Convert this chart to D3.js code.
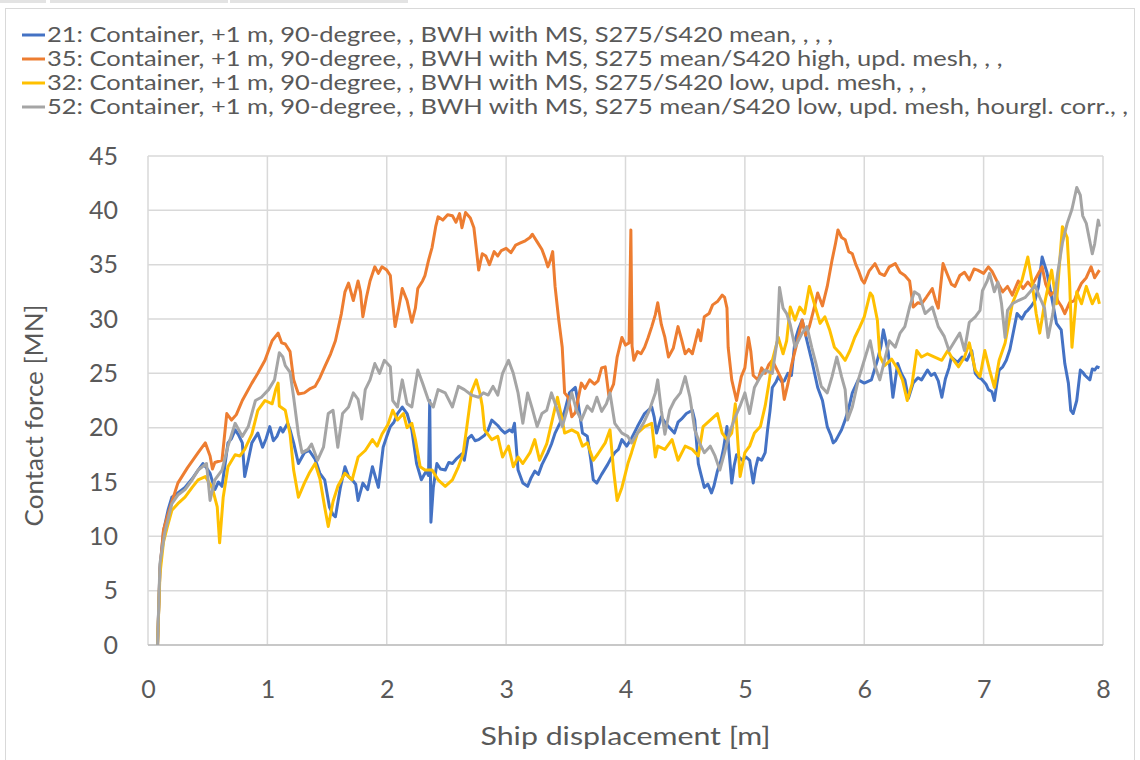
<!DOCTYPE html>
<html>
<head>
<meta charset="utf-8">
<script src="https://cdn.jsdelivr.net/npm/d3@7/dist/d3.min.js"></script>
<style>
  html, body { margin: 0; padding: 0; background: #ffffff; }
  svg { display: block; }
  text { font-family: Lato, "Open Sans", "Noto Sans", sans-serif; fill: #595959; }
</style>
</head>
<body>
<svg id="chart" width="1140" height="760"></svg>
<script>
// ---- series: [ship displacement (m), contact force (MN)] ----
const series21 = [[0.08,0],[0.1,7],[0.13,10.5],[0.17,12.5],[0.2,13.6],[0.25,14],[0.31,14.5],[0.37,15.3],[0.42,16.1],[0.46,16.7],[0.49,16.3],[0.52,15.8],[0.56,14.3],[0.59,15],[0.62,14.6],[0.65,17],[0.67,18.6],[0.7,19],[0.73,19.8],[0.76,19.3],[0.79,18.6],[0.81,15.5],[0.84,17],[0.87,18.6],[0.92,19.5],[0.96,18.2],[0.99,19],[1.02,20.1],[1.05,18.8],[1.08,19.2],[1.11,20],[1.13,19.6],[1.17,20.4],[1.19,19.8],[1.22,18.6],[1.26,16.7],[1.31,17.7],[1.35,17.9],[1.4,17.1],[1.44,15.8],[1.48,15.2],[1.52,12.7],[1.55,12],[1.57,11.8],[1.61,14.4],[1.65,16.4],[1.68,15.5],[1.71,15.2],[1.74,14.8],[1.76,13.3],[1.8,14.9],[1.84,14.3],[1.88,16.4],[1.93,14.5],[1.97,18.2],[2.0,19.2],[2.03,20.1],[2.06,20.5],[2.09,21.3],[2.13,21.9],[2.17,21.3],[2.21,19.8],[2.25,16.7],[2.29,15.2],[2.33,16],[2.35,15.6],[2.36,22.5],[2.37,11.3],[2.39,14.5],[2.42,16.7],[2.45,16.2],[2.49,16.1],[2.52,16.8],[2.55,16.7],[2.59,17.2],[2.63,17.6],[2.65,17],[2.68,19],[2.71,19.3],[2.74,18.8],[2.77,18.9],[2.82,19.3],[2.85,19.8],[2.88,20.7],[2.93,20.2],[2.96,19.8],[2.99,19.5],[3.03,19.8],[3.05,19.6],[3.07,20.4],[3.1,16.1],[3.14,14.9],[3.18,14.6],[3.21,15.4],[3.24,16],[3.27,15.7],[3.3,16.6],[3.35,17.7],[3.38,18.5],[3.41,19.5],[3.45,20.4],[3.49,21.5],[3.53,23.2],[3.58,23.7],[3.6,22.5],[3.64,19.5],[3.68,19.2],[3.71,17],[3.73,15.2],[3.76,14.9],[3.8,15.7],[3.85,16.6],[3.88,17.2],[3.91,17.7],[3.94,18],[3.97,18.9],[4.01,18.3],[4.05,19],[4.1,20.1],[4.16,21.3],[4.22,21.9],[4.24,21],[4.26,19.5],[4.3,21],[4.33,20.5],[4.36,20.1],[4.41,19.5],[4.44,20.5],[4.47,20.8],[4.51,21.3],[4.56,21.6],[4.58,20.7],[4.61,16.7],[4.63,15.8],[4.66,14.5],[4.69,14.8],[4.72,14],[4.74,14.6],[4.77,16],[4.8,17],[4.82,18],[4.85,20.1],[4.87,17.5],[4.89,14.9],[4.91,16.5],[4.93,17.5],[4.98,17],[5.01,17.3],[5.04,17],[5.07,14.9],[5.09,16.3],[5.11,17.2],[5.14,17],[5.17,17.7],[5.19,19.8],[5.21,21.5],[5.23,23.7],[5.26,24.2],[5.28,24.7],[5.31,24.2],[5.33,24.3],[5.36,25],[5.39,24.8],[5.42,28],[5.45,29.1],[5.48,29.9],[5.52,28],[5.56,26.2],[5.61,23.7],[5.65,22.5],[5.69,20.1],[5.72,19.3],[5.74,18.6],[5.76,18.8],[5.78,19.2],[5.81,19.8],[5.84,20.7],[5.87,21.8],[5.9,23.2],[5.95,24.4],[6.0,24.1],[6.06,24.4],[6.11,26.2],[6.14,27.5],[6.16,29],[6.2,27],[6.22,25],[6.24,22.8],[6.28,25.9],[6.31,25],[6.34,24.4],[6.37,22.7],[6.41,24.1],[6.45,24.6],[6.48,24.4],[6.53,25.3],[6.56,24.8],[6.59,25],[6.62,24.3],[6.65,22.8],[6.68,24.5],[6.71,25.5],[6.73,26.5],[6.78,26],[6.82,26.5],[6.86,26.2],[6.9,27.1],[6.93,25],[6.96,24.6],[6.98,24.5],[7.02,24],[7.04,23.5],[7.07,23.3],[7.09,22.5],[7.11,24],[7.13,25.3],[7.16,25.6],[7.19,26.2],[7.22,27.2],[7.24,28.3],[7.28,30.5],[7.32,30],[7.35,30.6],[7.37,30.8],[7.4,31.2],[7.43,31.7],[7.46,33],[7.49,35.7],[7.51,35],[7.53,34.3],[7.57,32],[7.61,29.6],[7.65,29],[7.68,25.9],[7.71,24.1],[7.73,21.6],[7.75,21.3],[7.78,22.5],[7.81,25.3],[7.83,25.1],[7.85,24.8],[7.89,24.4],[7.91,25.4],[7.93,25.3],[7.95,25.6],[7.97,25.5]];

const series35 = [[0.08,0],[0.1,7],[0.13,10.6],[0.17,12.1],[0.21,13.5],[0.25,14.9],[0.33,16.3],[0.42,17.7],[0.48,18.6],[0.52,17.4],[0.54,16.2],[0.56,16.8],[0.62,17],[0.66,21.3],[0.7,20.7],[0.74,21.2],[0.79,22.5],[0.87,24.1],[0.92,25],[0.98,26.2],[1.04,28],[1.09,28.7],[1.12,27.8],[1.15,27.7],[1.19,27],[1.22,24.4],[1.26,23.1],[1.31,23.2],[1.36,23.6],[1.4,23.8],[1.44,24.6],[1.48,25.6],[1.53,26.8],[1.57,28],[1.62,30.5],[1.65,32.5],[1.68,33.3],[1.72,31.7],[1.76,33.5],[1.78,32.5],[1.8,30.2],[1.83,32],[1.86,33.5],[1.9,34.8],[1.93,34.2],[1.96,34.8],[2.0,34.5],[2.03,34],[2.05,31.5],[2.07,29.3],[2.1,31],[2.13,32.8],[2.17,31.7],[2.21,29.7],[2.24,31],[2.26,32.8],[2.3,33.5],[2.32,34],[2.35,35.4],[2.38,36.6],[2.41,38.5],[2.43,39.4],[2.47,39.1],[2.51,39.6],[2.55,39.5],[2.58,38.9],[2.61,39.7],[2.63,38.4],[2.66,39.8],[2.7,39.3],[2.73,38.4],[2.75,36.5],[2.77,34.5],[2.8,36],[2.83,35.8],[2.86,35],[2.9,36.2],[2.93,35.8],[2.96,36.3],[3.0,36.5],[3.04,36.1],[3.08,36.8],[3.12,37],[3.16,37.2],[3.2,37.5],[3.22,37.8],[3.26,37.1],[3.3,36.4],[3.33,35.5],[3.35,34.8],[3.37,35.4],[3.39,36.2],[3.41,33],[3.44,30],[3.47,27.4],[3.49,23.2],[3.52,22.8],[3.55,21],[3.58,21.4],[3.61,23],[3.63,24.1],[3.66,23.6],[3.7,24.4],[3.74,24],[3.77,24.3],[3.8,25.5],[3.83,25.6],[3.86,23],[3.9,24],[3.93,26.5],[3.97,28.3],[4.0,27.6],[4.03,27.8],[4.045,38.2],[4.055,27.5],[4.07,26.2],[4.1,27],[4.13,26.8],[4.16,27.4],[4.19,28.3],[4.22,29.3],[4.25,30.4],[4.27,31.5],[4.3,29.5],[4.33,28.3],[4.36,26.5],[4.4,27.3],[4.44,29.3],[4.47,28.1],[4.5,26.8],[4.53,27.2],[4.56,26.8],[4.61,29],[4.63,28],[4.66,30.2],[4.7,30.5],[4.73,31.3],[4.77,31.6],[4.81,32.2],[4.83,32],[4.85,31],[4.86,27.4],[4.89,24.4],[4.93,22.5],[4.97,24.7],[5.0,25.5],[5.03,28.3],[5.05,27],[5.07,24.8],[5.11,24.4],[5.14,25.5],[5.17,25],[5.2,25.8],[5.23,26.2],[5.27,25.3],[5.31,24.4],[5.33,22.6],[5.36,24],[5.39,25.7],[5.43,27.5],[5.48,29.9],[5.51,28.5],[5.54,29.3],[5.58,31],[5.61,32.4],[5.65,31.2],[5.69,33],[5.73,35.4],[5.76,37],[5.78,38.2],[5.81,37.5],[5.84,37.3],[5.87,36.2],[5.9,36],[5.93,35],[5.95,34.5],[5.98,33.6],[6.0,33.3],[6.04,34.4],[6.09,35.1],[6.13,34.2],[6.17,34],[6.21,34.8],[6.26,35.1],[6.3,34.3],[6.34,34],[6.38,33.5],[6.41,31.1],[6.45,31.5],[6.48,31.4],[6.52,32],[6.57,32.8],[6.6,31.6],[6.62,31],[6.66,35.1],[6.7,34],[6.73,33.2],[6.76,33],[6.8,34],[6.84,34.3],[6.88,33.6],[6.92,34.6],[6.95,34.5],[7.0,34.2],[7.04,34.8],[7.07,34.4],[7.12,33.3],[7.16,32.5],[7.2,33],[7.24,32.2],[7.29,33.5],[7.33,32.8],[7.37,33.4],[7.4,33],[7.45,34],[7.49,34.8],[7.52,33.2],[7.56,32.2],[7.6,32.6],[7.62,31.7],[7.65,31.2],[7.68,30.5],[7.72,31.5],[7.76,31.7],[7.79,32.6],[7.82,33.3],[7.86,33.8],[7.9,34.8],[7.93,33.8],[7.97,34.5]];

const series32 = [[0.08,0],[0.1,6.5],[0.13,9.5],[0.16,10.8],[0.2,12.4],[0.25,13],[0.31,13.6],[0.37,14.5],[0.42,15.2],[0.48,15.5],[0.52,14.8],[0.54,14.4],[0.58,12.7],[0.6,9.4],[0.63,13.6],[0.67,16.4],[0.73,17.5],[0.77,17.4],[0.81,18],[0.87,19.4],[0.92,21.6],[0.98,22.5],[1.04,22.2],[1.07,23.5],[1.09,24.1],[1.1,22],[1.15,21.6],[1.19,19.4],[1.22,16.1],[1.26,13.6],[1.31,14.9],[1.35,15.8],[1.4,16.7],[1.44,15.3],[1.48,12.7],[1.51,10.9],[1.55,13.2],[1.59,14.6],[1.65,15.8],[1.71,15.2],[1.76,17.3],[1.82,17.9],[1.88,18.9],[1.92,18.3],[1.96,19.4],[2.01,20.3],[2.05,21.6],[2.09,20.7],[2.14,21.3],[2.17,20],[2.21,20.4],[2.24,18.9],[2.28,16.4],[2.32,16.1],[2.38,16.1],[2.43,15.2],[2.49,14.6],[2.55,15.2],[2.6,16.4],[2.64,17.6],[2.67,20],[2.71,23.3],[2.75,24.4],[2.78,23.2],[2.8,22],[2.82,19.8],[2.88,18.9],[2.93,19.2],[2.97,17.3],[3.02,18.3],[3.06,16.4],[3.1,17.3],[3.14,16.7],[3.2,17.7],[3.24,18.9],[3.28,17],[3.34,18.5],[3.38,20.4],[3.43,22.8],[3.47,20.7],[3.49,19.5],[3.55,19.8],[3.6,19.5],[3.64,18.3],[3.68,18.6],[3.73,17],[3.77,17.6],[3.83,18.6],[3.87,19.8],[3.9,16.1],[3.93,13.3],[3.97,14.5],[4.02,16.7],[4.05,17.7],[4.1,19.5],[4.16,20.1],[4.22,20.4],[4.25,17.3],[4.27,18.3],[4.33,18],[4.39,18.9],[4.44,17],[4.5,18.3],[4.56,18],[4.61,17.4],[4.65,20.1],[4.71,20.7],[4.77,21.3],[4.81,19.5],[4.85,18.9],[4.89,19.5],[4.92,22.2],[4.96,15.5],[5.0,17.7],[5.04,18.3],[5.08,19.5],[5.13,20.1],[5.17,22],[5.2,24],[5.23,26.2],[5.28,28.3],[5.32,26.8],[5.35,28],[5.38,31.1],[5.42,29.9],[5.46,31.1],[5.5,30.5],[5.54,33],[5.59,31.1],[5.63,29.6],[5.67,30.2],[5.71,29],[5.75,27.4],[5.8,26.8],[5.84,26.2],[5.88,27.1],[5.92,28.3],[5.96,29.2],[6.0,30.2],[6.05,32.4],[6.07,32.1],[6.11,29.9],[6.13,26.6],[6.17,25.7],[6.23,26.3],[6.28,25.4],[6.32,24.4],[6.36,22.5],[6.4,24],[6.44,27.1],[6.48,26.5],[6.53,26.8],[6.59,26.5],[6.65,26.2],[6.7,27.1],[6.73,26.5],[6.79,25.6],[6.84,26.5],[6.88,27.8],[6.93,25.3],[6.97,24.7],[7.01,27.1],[7.05,25.3],[7.09,23.7],[7.13,26.2],[7.18,27.8],[7.24,31.4],[7.28,32.5],[7.32,33.5],[7.37,35.7],[7.4,33.8],[7.44,30.5],[7.47,28.7],[7.51,31.4],[7.57,34.5],[7.61,31.4],[7.64,35.7],[7.66,38.5],[7.7,37.5],[7.72,33.5],[7.74,27.4],[7.78,32.5],[7.82,31.4],[7.86,33],[7.91,31.4],[7.95,32.3],[7.97,31.4]];

const series52 = [[0.08,0],[0.1,7.5],[0.14,10.3],[0.2,13],[0.25,13.8],[0.31,14.3],[0.37,15.2],[0.42,16.1],[0.49,16.7],[0.52,13.3],[0.56,15.2],[0.62,16.1],[0.67,18.3],[0.73,20.4],[0.79,19.2],[0.84,20.1],[0.9,22.5],[0.95,22.8],[1.01,23.5],[1.06,24.4],[1.1,26.9],[1.13,26.5],[1.15,25.7],[1.19,25.1],[1.22,22.8],[1.26,19.4],[1.29,17.7],[1.34,18],[1.37,18.5],[1.42,17],[1.47,18.2],[1.51,21.3],[1.55,21.6],[1.59,18.2],[1.63,21.3],[1.68,21.9],[1.72,23.2],[1.76,22.6],[1.79,20.8],[1.82,23.5],[1.86,24.4],[1.9,25.9],[1.94,25],[1.98,26.2],[2.03,25.6],[2.05,22.5],[2.09,21.9],[2.13,24.4],[2.17,22.2],[2.21,21.9],[2.26,25.3],[2.3,24.1],[2.35,22.5],[2.39,21.9],[2.43,23.5],[2.49,23.2],[2.55,21.9],[2.6,23.8],[2.65,23.5],[2.71,23],[2.77,22.8],[2.81,23.2],[2.85,23],[2.89,23.8],[2.93,23],[2.97,25],[3.02,26.2],[3.06,25],[3.1,23.2],[3.14,20.4],[3.18,23.2],[3.22,21.7],[3.26,20.1],[3.3,21.3],[3.34,21.6],[3.38,23.2],[3.43,21.6],[3.47,20.1],[3.51,21.6],[3.55,23.2],[3.59,21.6],[3.63,20.7],[3.68,22],[3.72,21.5],[3.76,22.8],[3.8,21.5],[3.84,22.2],[3.87,23.2],[3.91,20.4],[3.97,19.5],[4.02,19.2],[4.05,18.6],[4.1,19.5],[4.15,20.4],[4.2,21.6],[4.25,23.2],[4.27,24.4],[4.3,21.6],[4.33,19.4],[4.37,21.6],[4.41,22.5],[4.46,23.2],[4.5,24.7],[4.54,22.8],[4.58,19.8],[4.62,18.6],[4.66,17.7],[4.71,18.3],[4.75,17.4],[4.79,16.1],[4.83,17.7],[4.87,19.5],[4.92,21],[4.96,22],[5.0,23.2],[5.04,21.3],[5.08,23.7],[5.13,24.7],[5.17,25.3],[5.23,25],[5.27,28],[5.29,32.9],[5.32,31],[5.35,30.5],[5.38,29.5],[5.42,27.4],[5.48,28.7],[5.52,29.3],[5.56,27.4],[5.6,25.7],[5.64,23.8],[5.69,23.2],[5.73,24.7],[5.77,26.5],[5.81,24.7],[5.84,23.5],[5.86,20.7],[5.9,21.9],[5.95,24.4],[6.0,26.2],[6.05,28],[6.09,25.7],[6.13,24.4],[6.17,26.2],[6.21,28],[6.26,27.4],[6.3,28.7],[6.34,29.3],[6.38,31.1],[6.42,32.5],[6.46,32.2],[6.51,30.5],[6.57,31.1],[6.62,29.3],[6.67,28.4],[6.71,27.1],[6.76,28],[6.8,28.7],[6.84,27.1],[6.88,29.7],[6.93,30.2],[6.97,30.8],[6.99,32.6],[7.03,33.5],[7.05,34.2],[7.09,32.5],[7.12,33.4],[7.15,31.4],[7.18,28.3],[7.2,30.8],[7.24,31.4],[7.29,31.7],[7.35,32],[7.39,32.5],[7.43,33.1],[7.47,32],[7.51,31],[7.54,28.3],[7.58,30.5],[7.62,34.2],[7.66,37],[7.7,38.8],[7.74,40.1],[7.78,42.1],[7.81,41.4],[7.83,39.5],[7.86,38.8],[7.91,36],[7.93,36.9],[7.96,39.1],[7.97,38.5]];

const seriesNames = [
  "21: Container, +1 m, 90-degree, , BWH with MS, S275/S420 mean, , , ,",
  "35: Container, +1 m, 90-degree, , BWH with MS, S275 mean/S420 high, upd. mesh, , ,",
  "32: Container, +1 m, 90-degree, , BWH with MS, S275/S420 low, upd. mesh, , ,",
  "52: Container, +1 m, 90-degree, , BWH with MS, S275 mean/S420 low, upd. mesh, hourgl. corr., ,"
];
const seriesColors = ["#4472C4", "#ED7D31", "#FFC000", "#A5A5A5"];
const xTicks = [0, 1, 2, 3, 4, 5, 6, 7, 8];
const yTicks = [0, 5, 10, 15, 20, 25, 30, 35, 40, 45];
const xTitle = "Ship displacement [m]";
const yTitle = "Contact force [MN]";

const allSeries = [series21, series35, series32, series52];

// ---- layout ----
const svg = d3.select("#chart");
const W = 1140, H = 760;
const plot = { left: 148, right: 1103, top: 156, bottom: 645 };

// page chrome: faint strips along the top edge and the chart frame
svg.append("rect").attr("x", 0).attr("y", 0).attr("width", W).attr("height", H).attr("fill", "#ffffff");
[[0, 46], [50, 178], [230, 178]].forEach(([x, w]) => {
  svg.append("rect").attr("x", x).attr("y", 0).attr("width", w).attr("height", 3).attr("fill", "#e3e3e3");
});
svg.append("rect")
  .attr("x", 5.5).attr("y", 8.5).attr("width", W - 11).attr("height", H)
  .attr("fill", "none").attr("stroke", "#d9d9d9").attr("stroke-width", 1);

const x = d3.scaleLinear().domain([0, 8]).range([plot.left, plot.right]);
const y = d3.scaleLinear().domain([0, 45]).range([plot.bottom, plot.top]);

// ---- gridlines ----
const grid = svg.append("g");
grid.selectAll("line.h").data(yTicks).join("line")
  .attr("x1", plot.left).attr("x2", plot.right)
  .attr("y1", d => y(d)).attr("y2", d => y(d))
  .attr("stroke", "#d9d9d9").attr("stroke-width", 1.5);
grid.selectAll("line.v").data(xTicks).join("line")
  .attr("x1", d => x(d)).attr("x2", d => x(d))
  .attr("y1", plot.top).attr("y2", plot.bottom)
  .attr("stroke", "#d9d9d9").attr("stroke-width", 1.5);
// horizontal axis line
svg.append("line")
  .attr("x1", plot.left).attr("x2", plot.right)
  .attr("y1", y(0)).attr("y2", y(0))
  .attr("stroke", "#bfbfbf").attr("stroke-width", 1.5);

// ---- axes (labels only, Excel style) ----
const xAxis = d3.axisBottom(x).tickValues(xTicks).tickSize(0).tickPadding(0).tickFormat(d3.format("d"));
const gx = svg.append("g").attr("transform", `translate(0,${plot.bottom + 35})`).call(xAxis);
gx.select(".domain").remove();
gx.selectAll("text").attr("fill", "#595959").style("font-size", "25px").attr("dy", "0.32em").attr("y", 10);

const yAxis = d3.axisLeft(y).tickValues(yTicks).tickSize(0).tickPadding(0).tickFormat(d3.format("d"));
const gy = svg.append("g").attr("transform", `translate(${plot.left - 30},0)`).call(yAxis);
gy.select(".domain").remove();
gy.selectAll("text").attr("fill", "#595959").style("font-size", "25px").attr("x", 0);

// axis titles
svg.append("text")
  .attr("x", (plot.left + plot.right) / 2).attr("y", 745)
  .attr("text-anchor", "middle").style("font-size", "25px")
  .attr("textLength", 290).attr("lengthAdjust", "spacingAndGlyphs")
  .text(xTitle);
svg.append("text")
  .attr("transform", `translate(43,${(plot.top + plot.bottom) / 2 + 15}) rotate(-90)`)
  .attr("text-anchor", "middle").style("font-size", "25px")
  .attr("textLength", 222).attr("lengthAdjust", "spacingAndGlyphs")
  .text(yTitle);

// ---- lines ----
const line = d3.line().x(d => x(d[0])).y(d => y(d[1]));
svg.append("clipPath").attr("id", "plotclip").append("rect")
  .attr("x", plot.left).attr("y", plot.top - 2).attr("width", plot.right - plot.left).attr("height", plot.bottom - plot.top + 2);
svg.append("g").attr("clip-path", "url(#plotclip)")
  .selectAll("path").data(allSeries).join("path")
  .attr("d", line)
  .attr("fill", "none")
  .attr("stroke", (d, i) => seriesColors[i])
  .attr("stroke-width", 3)
  .attr("stroke-linejoin", "round");

// ---- legend ----
const legend = svg.append("g");
const rowY = [35, 59, 83, 107];
const texts = [];
seriesNames.forEach((name, i) => {
  legend.append("line")
    .attr("x1", 22).attr("x2", 45).attr("y1", rowY[i]).attr("y2", rowY[i])
    .attr("stroke", seriesColors[i]).attr("stroke-width", 3);
  const t = legend.append("text")
    .attr("x", 47).attr("y", rowY[i]).attr("dy", "0.35em")
    .style("font-size", "21px")
    .text(name);
  texts.push(t);
});
// condense the legend so the longest entry spans to the right frame
const longest = texts[3].node().getComputedTextLength();
const k = 1081 / longest;
texts.forEach(t => {
  const w = t.node().getComputedTextLength();
  t.attr("textLength", w * k).attr("lengthAdjust", "spacingAndGlyphs");
});
</script>
</body>
</html>
